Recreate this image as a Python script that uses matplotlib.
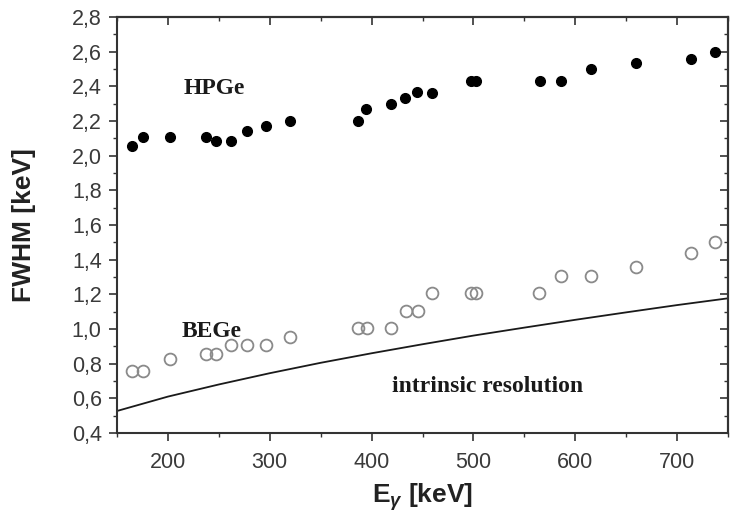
import numpy as np
import matplotlib
matplotlib.use("Agg")
import matplotlib.pyplot as plt
from matplotlib.ticker import MultipleLocator, FuncFormatter

# values
e_hpge = [164.5, 175.4, 202, 237, 247, 262.4, 277.6, 296.6, 320, 386.6, 395,
          418.8, 433.3, 444.8, 459, 498, 503, 565.7, 586, 615.7, 660, 714, 737.6]
fwhm_hpge = [2.056, 2.108, 2.109, 2.109, 2.086, 2.085, 2.142, 2.171, 2.20, 2.20,
             2.267, 2.298, 2.331, 2.365, 2.363, 2.432, 2.432, 2.432, 2.432,
             2.50, 2.533, 2.56, 2.60]

e_bege = [164.5, 175.4, 202, 237, 247.6, 262.4, 277.6, 296.3, 320, 386.6, 395.5,
          418.8, 434, 445.8, 459, 498, 503, 564.8, 586.4, 615.3, 660, 713.6, 737.6]
fwhm_bege = [0.76, 0.76, 0.825, 0.855, 0.855, 0.907, 0.907, 0.907, 0.955, 1.004,
             1.004, 1.004, 1.105, 1.105, 1.209, 1.209, 1.209, 1.209, 1.305,
             1.305, 1.356, 1.436, 1.503]

e_intr = [150, 200, 250, 300, 350, 400, 450, 500, 550, 600, 650, 700, 750]
fwhm_intr = [0.527, 0.61, 0.68, 0.745, 0.805, 0.86, 0.912, 0.962, 1.008,
             1.053, 1.096, 1.138, 1.177]

plt.rcParams["font.family"] = ["Liberation Sans", "DejaVu Sans"]
plt.rcParams["mathtext.fontset"] = "custom"
plt.rcParams["mathtext.bf"] = "Liberation Sans:bold"
plt.rcParams["mathtext.it"] = "Liberation Sans:italic:bold"
plt.rcParams["mathtext.rm"] = "Liberation Sans:bold"

fig = plt.figure(figsize=(7.31, 5.19), dpi=100)
ax = fig.add_axes([117 / 731, 1 - 433 / 519, (728 - 117) / 731, (433 - 17) / 519])

ax.plot(e_intr, fwhm_intr, color="#1a1a1a", lw=1.3, zorder=2)
ax.plot(e_hpge, fwhm_hpge, "o", ms=7, color="black", mec="black", zorder=3)
ax.plot(e_bege, fwhm_bege, "o", ms=8.5, mfc="none", mec="#8a8a8a", mew=1.3, zorder=3)

ax.set_xlim(150, 750)
ax.set_ylim(0.4, 2.8)
ax.xaxis.set_major_locator(MultipleLocator(100))
ax.xaxis.set_minor_locator(MultipleLocator(50))
ax.yaxis.set_major_locator(MultipleLocator(0.2))
ax.yaxis.set_minor_locator(MultipleLocator(0.1))
ax.yaxis.set_major_formatter(FuncFormatter(lambda v, p: f"{v:.1f}".replace(".", ",")))

for s in ax.spines.values():
    s.set_linewidth(1.5)
    s.set_color("#333333")
ax.tick_params(which="major", direction="out", length=6, width=1.2,
               labelsize=15.5, labelcolor="#3a3a3a", color="#333333")
ax.tick_params(which="minor", direction="out", length=3, width=1.0, color="#333333")
ax.tick_params(axis="x", which="major", pad=8)
ax.tick_params(axis="y", which="major", pad=5)

# mirrored ticks on top / right point into the frame
top = ax.secondary_xaxis("top")
top.xaxis.set_major_locator(MultipleLocator(100))
top.xaxis.set_minor_locator(MultipleLocator(50))
top.tick_params(which="major", direction="in", length=6, width=1.2, labeltop=False, color="#333333")
top.tick_params(which="minor", direction="in", length=3, width=1.0, color="#333333")
top.spines["top"].set_linewidth(1.5)
right = ax.secondary_yaxis("right")
right.yaxis.set_major_locator(MultipleLocator(0.2))
right.yaxis.set_minor_locator(MultipleLocator(0.1))
right.tick_params(which="major", direction="in", length=6, width=1.2, labelright=False, color="#333333")
right.tick_params(which="minor", direction="in", length=3, width=1.0, color="#333333")
right.spines["right"].set_linewidth(1.5)

ax.set_xlabel(r"$\mathbf{E}_{\gamma}$ [keV]", fontsize=19, fontweight="bold",
              color="#222222", va="center")
ax.set_ylabel("FWHM [keV]", fontsize=19, fontweight="bold", color="#222222", va="center")
ax.xaxis.set_label_coords(0.5, -0.155)
ax.yaxis.set_label_coords(-0.152, 0.5)

txt = dict(family=["Liberation Serif", "DejaVu Serif"], fontweight="bold",
           fontsize=17, color="#1a1a1a", va="center", ha="left")
ax.text(215.8, 2.39, "HPGe", **txt)
ax.text(213.8, 0.984, "BEGe", **txt)
ax.text(419.6, 0.667, "intrinsic resolution", **txt)

fig.savefig("out.png", dpi=100)
